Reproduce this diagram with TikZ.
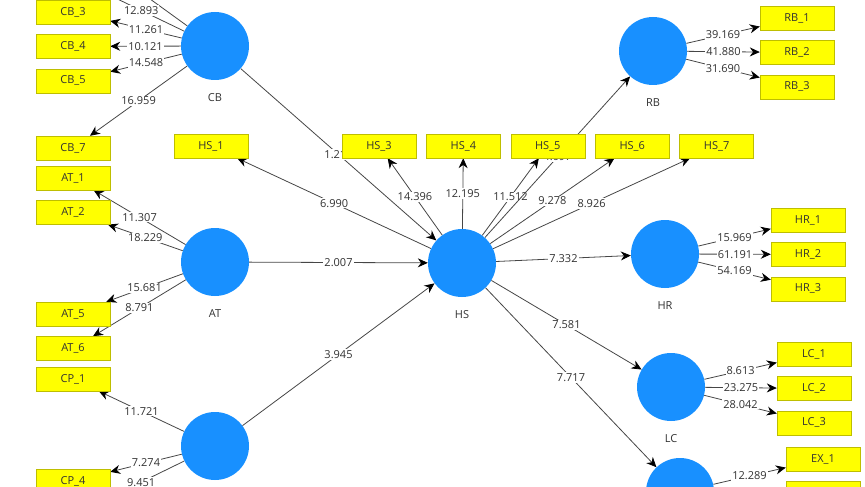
\documentclass[tikz,border=0pt]{standalone}
\usepackage{fontspec}
\newfontfamily\plsfont{Open Sans}
\usetikzlibrary{arrows.meta,positioning,backgrounds}
\definecolor{lvblue}{RGB}{24,144,255}
\definecolor{indyellow}{RGB}{255,255,0}
\definecolor{indedge}{RGB}{190,190,0}
\definecolor{linegray}{RGB}{70,70,70}
\definecolor{txtgray}{RGB}{50,50,50}
\tikzset{
  lv/.style={circle,fill=lvblue,minimum size=68pt,inner sep=0pt},
  lvname/.style={font=\plsfont\fontsize{11}{13}\selectfont,text=txtgray},
  ind/.style={draw=indedge,fill=indyellow,minimum width=74pt,minimum height=24pt,inner sep=0pt,font=\plsfont\fontsize{11}{13}\selectfont,text=txtgray},
  arr/.style={draw=linegray,line width=0.8pt,-{Stealth[length=10pt,width=9pt,black]}},
  coef/.style={fill=white,inner sep=1pt,font=\plsfont\fontsize{11}{13}\selectfont,text=txtgray}
}

\begin{document}
\begin{tikzpicture}[x=1pt,y=-1pt,node distance=10pt]
  \useasboundingbox (0,0) rectangle (865,487);

  % latent variables
  \node[lv] (cb) at (215,46) {};
  \node[lv] (at) at (215,262) {};
  \node[lv] (cp) at (215,446) {};
  \node[lv] (hs) at (462,263) {};
  \node[lv] (rb) at (653,51) {};
  \node[lv] (hr) at (665,254) {};
  \node[lv] (lc) at (671,387) {};
  \node[lv] (ex) at (680,492) {};
  \node[lvname, below=of cb] (cbname) {CB};
  \node[lvname, below=of at] (atname) {AT};
  \node[lvname, below=of hs] (hsname) {HS};
  \node[lvname, below=of rb] (rbname) {RB};
  \node[lvname, below=of hr] (hrname) {HR};
  \node[lvname, below=of lc] (lcname) {LC};

  % indicators
  \node[ind] (cb3) at (73,12) {CB\_3};
  \node[ind, above=of cb3] (cb2) {};
  \node[ind, above=of cb2] (cb1) {};
  \node[ind, below=of cb3] (cb4) {CB\_4};
  \node[ind, below=of cb4] (cb5) {CB\_5};
  \node[ind] (cb7) at (73,148) {CB\_7};
  \node[ind] (at1) at (73,178) {AT\_1};
  \node[ind, below=of at1] (at2) {AT\_2};
  \node[ind] (at5) at (73,314) {AT\_5};
  \node[ind, below=of at5] (at6) {AT\_6};
  \node[ind] (cp1) at (73,379) {CP\_1};
  \node[ind] (cp4) at (73,481) {CP\_4};
  \node[ind, below=of cp4] (cp5) {};
  \node[ind] (hs1) at (211,146) {HS\_1};
  \node[ind] (hs3) at (379,146) {HS\_3};
  \node[ind, right=of hs3] (hs4) {HS\_4};
  \node[ind, right=of hs4] (hs5) {HS\_5};
  \node[ind, right=of hs5] (hs6) {HS\_6};
  \node[ind, right=of hs6] (hs7) {HS\_7};
  \node[ind] (rb1) at (797,18) {RB\_1};
  \node[ind, below=of rb1] (rb2) {RB\_2};
  \node[ind, below=of rb2] (rb3) {RB\_3};
  \node[ind] (hr1) at (808,220) {HR\_1};
  \node[ind, below=of hr1] (hr2) {HR\_2};
  \node[ind, below=of hr2] (hr3) {HR\_3};
  \node[ind] (lc1) at (814,354) {LC\_1};
  \node[ind, below=of lc1] (lc2) {LC\_2};
  \node[ind, below=of lc2] (lc3) {LC\_3};
  \node[ind] (ex1) at (823,459) {EX\_1};
  \node[ind, below=of ex1] (ex2) {};

  \begin{pgfonlayer}{background}
    % outer loadings
    \draw[arr] (cb) -- (cb1);
    \draw[arr] (cb) -- node[coef]{12.893} (cb2);
    \draw[arr] (cb) -- node[coef]{11.261} (cb3);
    \draw[arr] (cb) -- node[coef]{10.121} (cb4);
    \draw[arr] (cb) -- node[coef]{14.548} (cb5);
    \draw[arr] (cb) -- node[coef]{16.959} (cb7);
    \draw[arr] (at) -- node[coef]{11.307} (at1);
    \draw[arr] (at) -- node[coef]{18.229} (at2);
    \draw[arr] (at) -- node[coef]{15.681} (at5);
    \draw[arr] (at) -- node[coef]{8.791} (at6);
    \draw[arr] (cp) -- node[coef]{11.721} (cp1);
    \draw[arr] (cp) -- node[coef]{7.274} (cp4);
    \draw[arr] (cp) -- node[coef]{9.451} (cp5);
    \draw[arr] (hs) -- node[coef]{6.990} (hs1);
    \draw[arr] (hs) -- node[coef]{14.396} (hs3);
    \draw[arr] (hs) -- node[coef]{12.195} (hs4);
    \draw[arr] (hs) -- node[coef]{11.512} (hs5);
    \draw[arr] (hs) -- node[coef]{9.278} (hs6);
    \draw[arr] (hs) -- node[coef]{8.926} (hs7);
    \draw[arr] (rb) -- node[coef]{39.169} (rb1);
    \draw[arr] (rb) -- node[coef]{41.880} (rb2);
    \draw[arr] (rb) -- node[coef]{31.690} (rb3);
    \draw[arr] (hr) -- node[coef]{15.969} (hr1);
    \draw[arr] (hr) -- node[coef]{61.191} (hr2);
    \draw[arr] (hr) -- node[coef]{54.169} (hr3);
    \draw[arr] (lc) -- node[coef]{8.613} (lc1);
    \draw[arr] (lc) -- node[coef]{23.275} (lc2);
    \draw[arr] (lc) -- node[coef]{28.042} (lc3);
    \draw[arr] (ex) -- node[coef]{12.289} (ex1);
    \draw[arr] (ex) -- (ex2);
    % inner model
    \draw[arr] (cb) -- node[coef]{1.217} (hs);
    \draw[arr] (at) -- node[coef]{2.007} (hs);
    \draw[arr] (cp) -- node[coef]{3.945} (hs);
    \draw[arr] (hs) -- node[coef]{4.697} (rb);
    \draw[arr] (hs) -- node[coef]{7.332} (hr);
    \draw[arr] (hs) -- node[coef]{7.581} (lc);
    \draw[arr] (hs) -- node[coef]{7.717} (ex);
  \end{pgfonlayer}
\end{tikzpicture}
\end{document}
